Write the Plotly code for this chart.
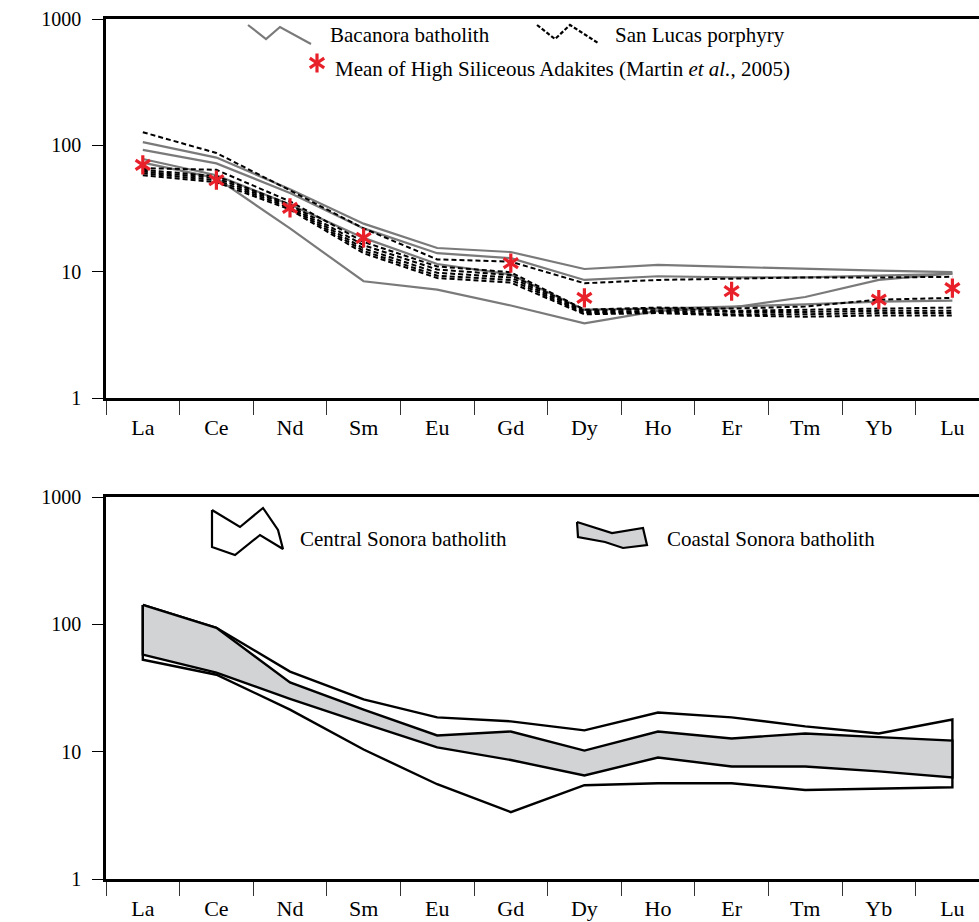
import plotly.graph_objects as go

# ---------------- data ----------------
categories = ["La", "Ce", "Nd", "Sm", "Eu", "Gd", "Dy", "Ho", "Er", "Tm", "Yb", "Lu"]

# Bacanora batholith (grey solid lines)
bacanora_1 = [106, 80, 45, 24, 15.4, 14.3, 10.5, 11.3, 10.9, 10.5, 10.2, 9.9]
bacanora_2 = [92, 72, 42, 22, 14.0, 12.8, 8.6, 9.2, 9.0, 9.0, 9.3, 9.6]
bacanora_3 = [78, 58, 34, 18.5, 11.5, 9.5, 5.0, 5.1, 5.3, 5.5, 5.8, 5.9]
bacanora_4 = [73, 55, 22, 8.4, 7.2, 5.4, 3.9, 4.9, 5.2, 6.3, 8.6, 9.7]

# San Lucas porphyry (black dashed lines)
san_lucas_1 = [127, 87, 44, 22, 12.5, 12.0, 8.1, 8.6, 8.8, 9.0, 9.0, 9.1]
san_lucas_2 = [66, 64, 36, 17.2, 11.0, 9.9, 5.0, 5.2, 5.1, 5.3, 6.0, 6.2]
san_lucas_3 = [64, 57, 34, 16.2, 10.4, 9.4, 4.9, 5.1, 4.9, 5.0, 5.1, 5.2]
san_lucas_4 = [62, 55, 33, 15.3, 9.8, 9.0, 4.8, 4.9, 4.8, 4.8, 4.9, 4.9]
san_lucas_5 = [60, 53, 32, 14.6, 9.3, 8.6, 4.7, 4.8, 4.6, 4.6, 4.7, 4.7]
san_lucas_6 = [58, 51, 31, 14.0, 8.9, 8.2, 4.6, 4.7, 4.5, 4.4, 4.5, 4.5]

# Mean of High Siliceous Adakites (Martin et al., 2005)
hsa_mean = [70, 53, 32, 18.5, None, 11.7, 6.2, None, 7.0, None, 6.0, 7.4]

# Central Sonora batholith envelope
central_upper = [142, 94, 42.5, 25.7, 18.6, 17.3, 14.7, 20.3, 18.6, 15.8, 13.9, 17.9]
central_lower = [52.7, 40.2, 21.4, 10.4, 5.55, 3.35, 5.45, 5.65, 5.65, 5.0, 5.15, 5.25]

# Coastal Sonora batholith envelope
coastal_upper = [142, 94, 35, 21.4, 13.4, 14.4, 10.2, 14.4, 12.7, 13.9, 13.0, 12.2]
coastal_lower = [57.8, 41.7, 26.0, 16.7, 10.8, 8.6, 6.5, 9.0, 7.65, 7.65, 7.0, 6.27]

y_tickvals = [1, 10, 100, 1000]
y_ticktext = ["1", "10", "100", "1000"]

# ---------------- styles ----------------
FONT = "Liberation Serif"
GREY = "#7a7a7a"
RED = "#e8202a"
FILL_GREY = "#d1d3d5"

W, H = 979, 922
ML, MR, MT, MB = 106, 0, 19, 43
PW, PH = W - ML - MR, H - MT - MB

def dom_y(top_px, bottom_px):
    return [(H - MB - bottom_px) / PH, (H - MB - top_px) / PH]

fig = go.Figure()

# ---------- top panel ----------
for s in [bacanora_1, bacanora_2, bacanora_3, bacanora_4]:
    fig.add_trace(go.Scatter(x=categories, y=s, mode="lines",
                             line=dict(color=GREY, width=2.2),
                             showlegend=False, xaxis="x", yaxis="y"))
for s in [san_lucas_1, san_lucas_2, san_lucas_3, san_lucas_4, san_lucas_5, san_lucas_6]:
    fig.add_trace(go.Scatter(x=categories, y=s, mode="lines",
                             line=dict(color="black", width=2.0, dash="5px,3px"),
                             showlegend=False, xaxis="x", yaxis="y"))
for sym in ["y-up", "y-down"]:
    fig.add_trace(go.Scatter(x=categories, y=hsa_mean, mode="markers",
                             marker=dict(symbol=sym, size=12,
                                         line=dict(color=RED, width=3.2)),
                             showlegend=False, xaxis="x", yaxis="y",
                             cliponaxis=False))

# ---------- bottom panel ----------
poly_x = categories + categories[::-1] + [categories[0]]
fig.add_trace(go.Scatter(x=poly_x, y=central_upper + central_lower[::-1] + [central_upper[0]],
                         mode="lines", fill="toself", fillcolor="white",
                         line=dict(color="black", width=2.4),
                         showlegend=False, xaxis="x2", yaxis="y2"))
fig.add_trace(go.Scatter(x=poly_x, y=coastal_upper + coastal_lower[::-1] + [coastal_upper[0]],
                         mode="lines", fill="toself", fillcolor=FILL_GREY,
                         line=dict(color="black", width=2.4),
                         showlegend=False, xaxis="x2", yaxis="y2"))

# ---------- legend decorations on a pixel-space axis spanning the whole plot area ----------
def px_trace(xs, ys, **kw):
    fig.add_trace(go.Scatter(x=xs, y=ys, xaxis="x3", yaxis="y3",
                             showlegend=False, cliponaxis=False,
                             hoverinfo="skip", **kw))

px_trace([248, 266, 280, 311], [25, 39, 27, 44], mode="lines",
         line=dict(color=GREY, width=2.2))
px_trace([537, 555, 570, 598], [25, 39, 25, 43], mode="lines",
         line=dict(color="black", width=2.2, dash="4px,2px"))
for sym in ["y-up", "y-down"]:
    px_trace([317], [63], mode="markers",
             marker=dict(symbol=sym, size=12, line=dict(color=RED, width=3.2)))
px_trace([212, 240, 263, 278, 283, 260, 235, 212, 212],
         [510, 527, 508, 530, 549, 535, 555, 547, 510],
         mode="lines", fill="toself", fillcolor="white",
         line=dict(color="black", width=2.2))
px_trace([577, 612, 643, 647, 623, 605, 578, 577],
         [522, 533, 528, 545, 548, 542, 537, 522],
         mode="lines", fill="toself", fillcolor=FILL_GREY,
         line=dict(color="black", width=2.2))

def txt(x, y, s, size=21):
    return dict(x=x, y=y, xref="x3", yref="y3", text=s, showarrow=False,
                xanchor="left", yanchor="middle",
                font=dict(family=FONT, size=size, color="black"))

annotations = [
    txt(328, 35, "Bacanora batholith"),
    txt(613, 35, "San Lucas porphyry"),
    txt(333, 69, "Mean of High Siliceous Adakites (Martin <i>et al.</i>, 2005)"),
    txt(298, 539, "Central Sonora batholith"),
    txt(665, 539, "Coastal Sonora batholith"),
]
for yc in [172, 660]:
    annotations.append(dict(x=24, y=yc, xref="x3", yref="y3", text="sample/chondrite",
                            showarrow=False, textangle=-90, xanchor="center",
                            yanchor="middle",
                            font=dict(family=FONT, size=20, color="black")))

# ---------- axes ----------
xcommon = dict(type="category", categoryorder="array", categoryarray=categories,
               range=[-0.5, -0.5 + PW / 73.6], showline=True, linewidth=2.5,
               linecolor="black", mirror=True, ticks="outside", tickson="boundaries",
               ticklen=14, tickwidth=1.3, tickcolor="#333", ticklabelstandoff=8,
               showgrid=False, zeroline=False,
               tickfont=dict(family=FONT, size=22, color="black"))
ycommon = dict(type="log", range=[0, 3], tickvals=y_tickvals, ticktext=y_ticktext,
               showline=True, linewidth=2.5, linecolor="black", mirror=False,
               ticks="outside", ticklen=11, tickwidth=1.3, tickcolor="black",
               ticklabelstandoff=7,
               showgrid=False, zeroline=False,
               tickfont=dict(family=FONT, size=20, color="black"))

fig.update_layout(
    width=W, height=H,
    margin=dict(l=ML, r=MR, t=MT, b=MB),
    paper_bgcolor="white", plot_bgcolor="rgba(0,0,0,0)",
    showlegend=False,
    xaxis=dict(domain=[0, 1], anchor="y", **xcommon),
    yaxis=dict(domain=dom_y(19, 398), anchor="x", **ycommon),
    xaxis2=dict(domain=[0, 1], anchor="y2", **xcommon),
    yaxis2=dict(domain=dom_y(497, 879), anchor="x2", **ycommon),
    xaxis3=dict(domain=[0, 1], range=[ML, W], anchor="y3",
                visible=False, fixedrange=True),
    yaxis3=dict(domain=[0, 1], range=[H - MB, MT], anchor="x3",
                visible=False, fixedrange=True),
    annotations=annotations,
)

fig.write_html("out.html")
